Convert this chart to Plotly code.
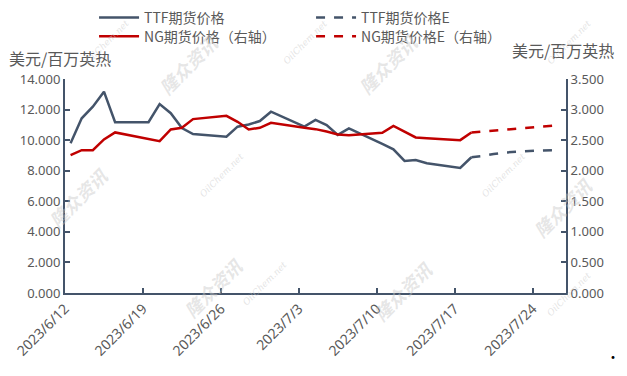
import pandas as pd
import plotly.graph_objects as go

# ---- data ----
dates = ["2023-06-12", "2023-06-13", "2023-06-14", "2023-06-15", "2023-06-16",
         "2023-06-19", "2023-06-20", "2023-06-21", "2023-06-22", "2023-06-23",
         "2023-06-26", "2023-06-27", "2023-06-28", "2023-06-29", "2023-06-30",
         "2023-07-03", "2023-07-04", "2023-07-05", "2023-07-06", "2023-07-07",
         "2023-07-10", "2023-07-11", "2023-07-12", "2023-07-13", "2023-07-14",
         "2023-07-17", "2023-07-18"]
ttf = [9.79, 11.43, 12.19, 13.17, 11.17,
       11.17, 12.36, 11.76, 10.79, 10.40,
       10.23, 10.88, 11.02, 11.25, 11.86,
       10.88, 11.32, 10.99, 10.34, 10.77,
       9.75, 9.40, 8.64, 8.70, 8.49,
       8.18, 8.88]
ng = [2.254, 2.336, 2.336, 2.511, 2.626,
      2.518, 2.484, 2.675, 2.702, 2.844,
      2.898, 2.800, 2.675, 2.702, 2.784,
      2.703, 2.680, 2.640, 2.593, 2.582,
      2.620, 2.734, 2.640, 2.544, 2.533,
      2.500, 2.626]

dates_e = ["2023-07-18", "2023-07-19", "2023-07-20", "2023-07-21",
           "2023-07-24", "2023-07-25", "2023-07-26"]
ttf_e = [8.88, 8.96, 9.09, 9.19, 9.32, 9.36, 9.36]
ng_e = [2.626, 2.640, 2.664, 2.680, 2.713, 2.730, 2.746]

tick_dates = ["2023-06-12", "2023-06-19", "2023-06-26", "2023-07-03",
              "2023-07-10", "2023-07-17", "2023-07-24"]
tick_labels = ["2023/6/12", "2023/6/19", "2023/6/26", "2023/7/3",
               "2023/7/10", "2023/7/17", "2023/7/24"]

names = ["TTF期货价格", "TTF期货价格E", "NG期货价格（右轴）", "NG期货价格E（右轴）"]
y_title = "美元/百万英热"

# points sit in the middle of each day slot (Excel date-axis style)
half_day = pd.Timedelta(hours=12)
x = pd.to_datetime(dates) + half_day
x_e = pd.to_datetime(dates_e) + half_day

BLUE = "#44546A"
RED = "#C00000"
GRAY = "#595959"
FONT = "Noto Sans CJK SC, Noto Sans, sans-serif"

fig = go.Figure()
fig.add_trace(go.Scatter(x=x, y=ttf, mode="lines", name=names[0], legend="legend",
                         line=dict(color=BLUE, width=2.5)))
fig.add_trace(go.Scatter(x=x_e, y=ttf_e, mode="lines", name=names[1], legend="legend",
                         line=dict(color=BLUE, width=2.5, dash="dash")))
fig.add_trace(go.Scatter(x=x, y=ng, mode="lines", name=names[2], yaxis="y2",
                         legend="legend2", line=dict(color=RED, width=2.5)))
fig.add_trace(go.Scatter(x=x_e, y=ng_e, mode="lines", name=names[3], yaxis="y2",
                         legend="legend2", line=dict(color=RED, width=2.5, dash="dash")))

axis_common = dict(showgrid=False, zeroline=False, showline=True,
                   linecolor=BLUE, linewidth=2, ticks="inside", ticklen=5,
                   tickcolor=BLUE, tickwidth=2,
                   tickfont=dict(family="Noto Sans, sans-serif", size=13, color=GRAY))

leg_common = dict(orientation="h", xanchor="left", yanchor="top",
                  xref="container", yref="container",
                  entrywidth=162, entrywidthmode="pixels",
                  font=dict(family=FONT, size=14, color=GRAY),
                  bgcolor="rgba(0,0,0,0)", itemwidth=40)

fig.update_layout(
    width=627, height=376,
    margin=dict(l=62, r=61, t=79, b=83),
    paper_bgcolor="white", plot_bgcolor="white",
    font=dict(family=FONT, color=GRAY),
    showlegend=True,
    legend=dict(x=0.15, y=0.995, **leg_common),
    legend2=dict(x=0.15, y=0.945, **leg_common),
    xaxis=dict(type="date", range=["2023-06-12", "2023-07-27"],
               tickvals=pd.to_datetime(tick_dates), ticktext=tick_labels,
               tickangle=-45, **{**axis_common,
                                 "tickfont": dict(family="Noto Sans, sans-serif",
                                                  size=14, color=GRAY)}),
    yaxis=dict(range=[0, 14], dtick=2, tickformat=".3f", **axis_common),
    yaxis2=dict(range=[0, 3.5], dtick=0.5, tickformat=".3f", overlaying="y",
                side="right", **axis_common),
)

fig.add_annotation(text=y_title, xref="paper", yref="paper", x=-0.115, y=1.10,
                   xanchor="left", yanchor="middle", showarrow=False,
                   font=dict(family=FONT, size=16, color=GRAY))
fig.add_annotation(text=y_title, xref="paper", yref="paper", x=1.10, y=1.135,
                   xanchor="right", yanchor="middle", showarrow=False,
                   font=dict(family=FONT, size=16, color=GRAY))

# faint watermarks
wm = [("隆众资讯", -0.05, 0.45, 18), ("隆众资讯", 0.22, -0.15, 18),
      ("隆众资讯", 0.75, -0.17, 18), ("隆众资讯", 1.07, 0.40, 18),
      ("隆众资讯", 0.17, 1.25, 18), ("隆众资讯", 0.72, 1.25, 18)]
for t, px, py, s in wm:
    fig.add_annotation(text="<b><i>" + t + "</i></b>", xref="paper", yref="paper",
                       x=px, y=py, showarrow=False, textangle=-45,
                       font=dict(family=FONT, size=s, color="rgba(200,200,200,0.45)"))
oc = [(0.03, 1.30), (0.48, 1.30), (1.06, 1.30), (0.26, 0.55), (0.40, -0.08),
      (0.93, 0.55), (1.06, -0.13)]
for px, py in oc:
    fig.add_annotation(text="<i>OilChem.net</i>", xref="paper", yref="paper",
                       x=px, y=py, showarrow=False, textangle=-45,
                       font=dict(family="DejaVu Serif, serif", size=9,
                                 color="rgba(200,200,200,0.5)"))

# small dark dot seen at the bottom-right corner of the reference
fig.add_annotation(text="•", xref="paper", yref="paper", x=1.111, y=-0.35,
                   showarrow=False, font=dict(size=14, color="black"))

fig.write_html("out.html")
